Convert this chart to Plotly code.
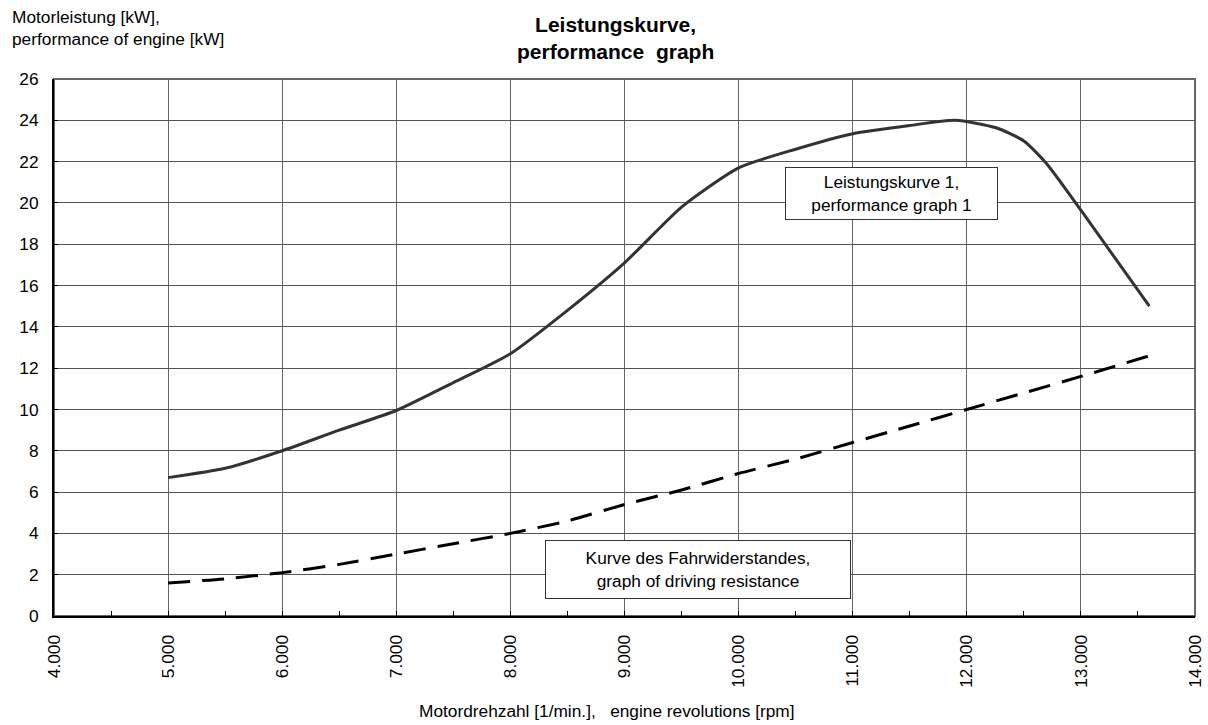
import plotly.graph_objects as go

# Data
rpm_power = [5000, 5500, 6000, 6500, 7000, 7500, 8000, 8500, 9000, 9500, 10000,
             10500, 11000, 11500, 11900, 12250, 12500, 12700, 13000, 13600]
power_kw = [6.7, 7.15, 8.0, 9.0, 9.95, 11.3, 12.7, 14.8, 17.1, 19.8, 21.7,
            22.6, 23.35, 23.75, 24.0, 23.65, 23.0, 21.9, 19.65, 15.0]

rpm_res = [5000, 5500, 6000, 6500, 7000, 7500, 8000, 8500, 9000, 9500, 10000,
           10500, 11000, 11500, 12000, 12500, 13000, 13600]
resist_kw = [1.6, 1.8, 2.1, 2.5, 3.0, 3.5, 4.0, 4.6, 5.4, 6.1, 6.9,
             7.6, 8.4, 9.2, 10.0, 10.8, 11.6, 12.6]

x_ticks = [4000, 5000, 6000, 7000, 8000, 9000, 10000, 11000, 12000, 13000, 14000]
x_tick_labels = ["4.000", "5.000", "6.000", "7.000", "8.000", "9.000", "10.000",
                 "11.000", "12.000", "13.000", "14.000"]
y_ticks = list(range(0, 27, 2))

title_text = "<b>Leistungskurve,<br>performance  graph</b>"
y_title = "Motorleistung [kW],<br>performance of engine [kW]"
x_title = "Motordrehzahl [1/min.],   engine revolutions [rpm]"
label_power = "Leistungskurve 1,<br>performance graph 1"
label_res = "Kurve des Fahrwiderstandes,<br>graph of driving resistance"

font = "Liberation Sans, Arial, sans-serif"
fs = 17.3

fig = go.Figure()
fig.add_trace(go.Scatter(x=rpm_power, y=power_kw, mode="lines",
                         line=dict(color="#333333", width=3, shape="spline", smoothing=0.6),
                         showlegend=False, hoverinfo="skip"))
fig.add_trace(go.Scatter(x=rpm_res, y=resist_kw, mode="lines",
                         line=dict(color="#000000", width=3, dash="22px,12px",
                                   shape="spline", smoothing=0.6),
                         showlegend=False, hoverinfo="skip"))

fig.update_layout(
    width=1208, height=725,
    margin=dict(l=54, r=13, t=79, b=109, autoexpand=False),
    paper_bgcolor="white", plot_bgcolor="white",
    font=dict(family=font, size=fs, color="#000000"),
    xaxis=dict(range=[4000, 14000], tickvals=x_ticks, ticktext=x_tick_labels,
               tickangle=-90, showgrid=True, gridcolor="#666666", gridwidth=1,
               showline=True, linecolor="#000000", linewidth=2,
               ticks="inside", ticklen=5, tickcolor="#000000",
               ticklabelstandoff=10, automargin=False,
               minor=dict(dtick=500, tick0=4000, ticks="inside", ticklen=5,
                          tickcolor="#000000", showgrid=False),
               zeroline=False, fixedrange=True),
    yaxis=dict(range=[0, 26], tickvals=y_ticks, showgrid=True,
               gridcolor="#555555", gridwidth=1,
               showline=True, linecolor="#000000", linewidth=2,
               ticks="inside", ticklen=4, tickcolor="#000000",
               ticklabelstandoff=10, automargin=False,
               zeroline=False, fixedrange=True),
    shapes=[dict(type="rect", xref="paper", yref="paper", x0=0, y0=0, x1=1, y1=1,
                 line=dict(color="#666666", width=2), layer="below")],
    annotations=[
        dict(text=title_text, xref="paper", yref="paper", x=(615 - 54) / 1141,
             y=1 + (79 - 38) / 537, xanchor="center", yanchor="middle",
             showarrow=False, font=dict(size=21), align="center"),
        dict(text=y_title, xref="paper", yref="paper", x=(10 - 54) / 1141,
             y=1 + (79 - 28) / 537, xanchor="left", yanchor="middle",
             align="left", showarrow=False, font=dict(size=fs)),
        dict(text=x_title, xref="paper", yref="paper", x=(607 - 54) / 1141,
             y=-(711 - 616) / 537, xanchor="center", yanchor="middle",
             showarrow=False, font=dict(size=fs)),
        dict(text=label_power, x=11340, y=20.47, xref="x", yref="y",
             showarrow=False, bgcolor="white", bordercolor="#333333",
             borderwidth=1, borderpad=0, width=211, height=51,
             font=dict(size=fs), align="center"),
        dict(text=label_res, x=9644, y=2.23, xref="x", yref="y",
             showarrow=False, bgcolor="white", bordercolor="#333333",
             borderwidth=1, borderpad=0, width=304, height=57,
             font=dict(size=fs), align="center"),
    ],
)

fig.write_html("out.html", config={"displayModeBar": False},
               post_script="document.body.style.margin='0px';")
